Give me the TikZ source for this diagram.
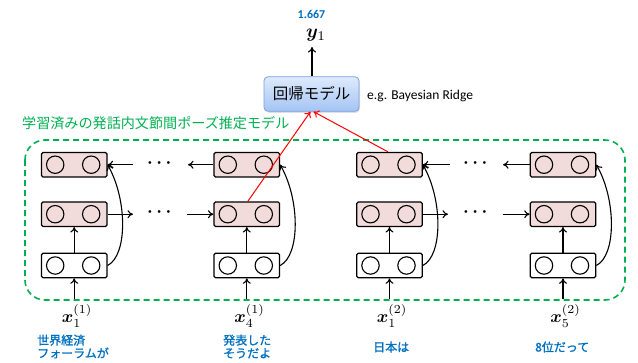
\documentclass[tikz,border=0pt]{standalone}
\usepackage{amsmath,bm}
\usepackage{fontspec}
\setmainfont{Carlito}
\newfontfamily\jp{Noto Sans CJK JP}
\newfontfamily\jpb[FakeBold=1.2]{Noto Sans CJK JP}
\usetikzlibrary{arrows.meta,shadows}
\definecolor{pinkfill}{RGB}{242,220,219}
\definecolor{grn}{RGB}{0,176,80}
\definecolor{blu}{RGB}{0,112,192}
\definecolor{regtop}{RGB}{222,234,252}
\definecolor{regbot}{RGB}{164,196,244}
\definecolor{regdraw}{RGB}{120,160,222}
\begin{document}
\begin{tikzpicture}[x=1pt,y=1pt,
  unit/.style={draw, line width=1.2pt, rounded corners=1.5pt, minimum width=65.5pt, minimum height=24.5pt, inner sep=0pt,
    path picture={\draw[line width=1.1pt] ([xshift=-19pt]path picture bounding box.center) circle (8.7pt)
      ([xshift=17pt]path picture bounding box.center) circle (8.7pt);}},
  hid/.style={unit, fill=pinkfill},
  inp/.style={unit, fill=white},
  arr/.style={-{To[length=5.5pt,width=8pt]}, line width=1.1pt},
  redarr/.style={-{To[length=5.5pt,width=8pt]}, line width=1pt, red},
  xl/.style={inner sep=0pt, scale=1.75, transform shape},
  lab/.style={text=blu, font=\jpb\fontsize{12}{13}\selectfont, align=left, inner sep=0pt, anchor=west},
  dots/.style={inner sep=0pt, scale=1.8, transform shape},
  regbox/.style={draw=regdraw, line width=0.8pt, rounded corners=4pt, top color=regtop, bottom color=regbot,
    minimum width=95pt, minimum height=34.5pt, inner sep=0pt, font=\jp\fontsize{15.5}{17}\selectfont,
    drop shadow={opacity=0.25, shadow xshift=1pt, shadow yshift=-1.5pt}}
]
\useasboundingbox (0,0) rectangle (638,-362);

% dashed container
\draw[grn, line width=1.6pt, dash pattern=on 6pt off 4pt, rounded corners=20pt] (25,-140) rectangle (625,-300);
\node[anchor=west, text=grn, font=\jp\fontsize{14.1}{15}\selectfont, inner sep=0pt] (gl) at (22,-123) {学習済みの発話内文節間ポーズ推定モデル};

% units
\node[hid] (t1) at (74.2,-164.7) {};
\node[hid] (m1) at (74.2,-214.2) {};
\node[inp] (b1) at (74.2,-265.5) {};
\node[hid] (t2) at (246.8,-164.7) {};
\node[hid] (m2) at (246.8,-214.2) {};
\node[inp] (b2) at (246.8,-265.5) {};
\node[hid] (t3) at (389.5,-164.7) {};
\node[hid] (m3) at (389.5,-214.2) {};
\node[inp] (b3) at (389.5,-265.5) {};
\node[hid] (t4) at (563,-164.7) {};
\node[hid] (m4) at (563,-214.2) {};
\node[inp] (b4) at (563,-265.5) {};

% inputs
\node[xl] (x1) at (77,-316) {$\bm{x}_1^{(1)}$};
\node[xl] (x2) at (249.5,-316) {$\bm{x}_4^{(1)}$};
\node[xl] (x3) at (392,-316) {$\bm{x}_1^{(2)}$};
\node[xl] (x4) at (565.5,-316) {$\bm{x}_5^{(2)}$};

\foreach \i in {1,2,3,4}{
  \draw[arr] (b\i.south |- 0,-299) -- (b\i.south);
  \draw[arr] (b\i) -- (m\i);
  \draw[arr] (b\i.east) .. controls +(20,10) and +(20,-35) .. (t\i.east);
}

% horizontal connectors, group 1
\coordinate (f1a) at (133,-214.2);
\coordinate (f1b) at (187,-214.2);
\coordinate (g1a) at (133,-164.7);
\coordinate (g1b) at (188,-164.7);
\draw[arr] (m1.east) -- (f1a);
\draw[arr] (f1b) -- (m2.west);
\draw[arr] (g1a) -- (t1.east);
\draw[arr] (t2.west) -- (g1b);
\node[dots] (d1) at (161,-163) {$\bm{\cdots}$};
\node[dots] (d2) at (161,-212.5) {$\bm{\cdots}$};

% group 2
\coordinate (f2a) at (448,-214.2);
\coordinate (f2b) at (502.7,-214.2);
\coordinate (g2a) at (450,-164.7);
\coordinate (g2b) at (503,-164.7);
\draw[arr] (m3.east) -- (f2a);
\draw[arr] (f2b) -- (m4.west);
\draw[arr] (g2a) -- (t3.east);
\draw[arr] (t4.west) -- (g2b);
\node[dots] (d3) at (477,-163) {$\bm{\cdots}$};
\node[dots] (d4) at (477,-212.5) {$\bm{\cdots}$};

% regression
\node[regbox] (reg) at (311.5,-94) {回帰モデル};
\node[anchor=west, font=\fontsize{13.5}{15}\selectfont, inner sep=0pt] (eg) at (367,-96) {e.g. Bayesian Ridge};
\node[inner sep=0pt, scale=1.9, transform shape] (y1) at (316,-35) {$\bm{y}_1$};
\draw[arr] (reg.north -| 312,0) -- (312,-47);
\node[text=blu, font=\bfseries\fontsize{12}{14}\selectfont, inner sep=0pt] (val) at (311.5,-14) {1.667};

\draw[redarr] ([xshift=1pt]m2.north) -- ([xshift=-1pt]reg.south);
\draw[redarr] ([xshift=-1.5pt]t3.north) -- ([xshift=2pt]reg.south);

% labels
\node[lab] (l1) at (37,-346.5) {世界経済\\フォーラムが};
\node[lab] (l2) at (223,-346.5) {発表した\\そうだよ};
\node[lab] (l3) at (373,-347) {日本は};
\node[lab] (l4) at (535,-347) {8位だって};
\end{tikzpicture}
\end{document}
